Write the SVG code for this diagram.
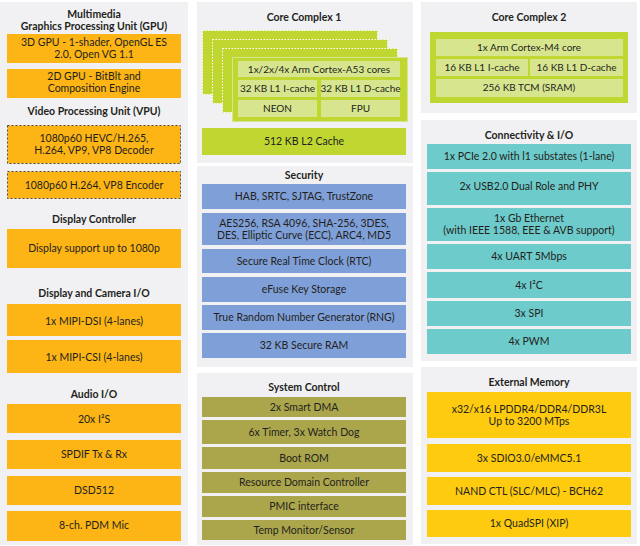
<svg xmlns="http://www.w3.org/2000/svg" width="640" height="546" viewBox="0 0 640 546">
<style>
text{font-family:Lato,"Open Sans","Liberation Sans",sans-serif;font-size:10.5px;fill:#231f20;text-anchor:middle}
.t{font-weight:bold;font-size:10.5px}
.c{font-size:10px}
.panel{fill:#f1f1f3}
.or{fill:#fdb515}
.dash{fill:#fdb515;stroke:#4a4a4a;stroke-width:1;stroke-dasharray:2,2}
.ye{fill:#fecb0e}
.gr{fill:#bfd730}
.lg{fill:#d7e58f}
.layer{fill:#bfd730;stroke:#ffffff;stroke-width:1;stroke-dasharray:1.5,1.5}
.bl{fill:#7f9fd8}
.te{fill:#6ecbcb}
.ol{fill:#aba64b}
</style>
<rect width="640" height="546" fill="#ffffff"/>
<g id="panels">
<rect class="panel" x="0" y="2" width="188" height="543"/>
<rect class="panel" x="197" y="2" width="216" height="161"/>
<rect class="panel" x="197" y="166" width="216" height="201"/>
<rect class="panel" x="197" y="373" width="216" height="172"/>
<rect class="panel" x="421" y="2" width="216" height="111"/>
<rect class="panel" x="421" y="120" width="216" height="241"/>
<rect class="panel" x="421" y="367" width="216" height="177"/>
</g>
<g id="gpu">
<text class="t" x="94" y="18">Multimedia</text>
<text class="t" x="94" y="30">Graphics Processing Unit (GPU)</text>
<rect class="or" x="7" y="34" width="174" height="29"/>
<text x="94" y="46">3D GPU - 1-shader, OpenGL ES</text>
<text x="94" y="58">2.0, Open VG 1.1</text>
<rect class="or" x="7" y="69" width="174" height="29"/>
<text x="94" y="80">2D GPU - BitBlt and</text>
<text x="94" y="92">Composition Engine</text>
</g>
<g id="vpu">
<text class="t" x="94" y="115">Video Processing Unit (VPU)</text>
<rect class="dash" x="7.5" y="125.5" width="173" height="38"/>
<text x="94" y="142">1080p60 HEVC/H.265,</text>
<text x="94" y="154">H.264, VP9, VP8 Decoder</text>
<rect class="dash" x="7.5" y="171.5" width="173" height="27"/>
<text x="94" y="189">1080p60 H.264, VP8 Encoder</text>
</g>
<g id="display">
<text class="t" x="94" y="223">Display Controller</text>
<rect class="or" x="7" y="229" width="174" height="39"/>
<text x="94" y="252">Display support up to 1080p</text>
</g>
<g id="dispcam">
<text class="t" x="94" y="297">Display and Camera I/O</text>
<rect class="or" x="7" y="304" width="174" height="32"/>
<text x="94" y="325">1x MIPI-DSI (4-lanes)</text>
<rect class="or" x="7" y="340" width="174" height="33"/>
<text x="94" y="361">1x MIPI-CSI (4-lanes)</text>
</g>
<g id="audio">
<text class="t" x="94" y="398">Audio I/O</text>
<rect class="or" x="7" y="404" width="174" height="29"/>
<text x="94" y="423">20x I²S</text>
<rect class="or" x="7" y="440" width="174" height="29"/>
<text x="94" y="458">SPDIF Tx &amp; Rx</text>
<rect class="or" x="7" y="476" width="174" height="29"/>
<text x="94" y="494">DSD512</text>
<rect class="or" x="7" y="511" width="174" height="30"/>
<text x="94" y="529">8-ch. PDM Mic</text>
</g>
<g id="cc1">
<text class="t" x="304" y="21">Core Complex 1</text>
<rect class="layer" x="202.5" y="30.5" width="175" height="64"/>
<rect class="layer" x="212.5" y="39.5" width="175" height="64"/>
<rect class="layer" x="222.5" y="48.5" width="175" height="64"/>
<rect class="gr" x="232.5" y="57.5" width="175" height="64" stroke="#d7e58f" stroke-width="1"/>
<rect class="lg" x="238" y="61" width="162" height="16"/>
<text class="c" x="319" y="73">1x/2x/4x Arm Cortex-A53 cores</text>
<rect class="lg" x="238" y="80" width="79" height="17"/>
<text class="c" x="277.5" y="92">32 KB L1 I-cache</text>
<rect class="lg" x="321" y="80" width="79" height="17"/>
<text class="c" x="360.5" y="92">32 KB L1 D-cache</text>
<rect class="lg" x="238" y="100" width="79" height="17"/>
<text class="c" x="277.5" y="112">NEON</text>
<rect class="lg" x="321" y="100" width="79" height="17"/>
<text class="c" x="360.5" y="112">FPU</text>
<rect class="gr" x="202" y="128" width="204" height="27"/>
<text x="304" y="145">512 KB L2 Cache</text>
</g>
<g id="security">
<text class="t" x="304" y="179">Security</text>
<rect class="bl" x="202" y="184" width="204" height="25"/>
<text x="304" y="200">HAB, SRTC, SJTAG, TrustZone</text>
<rect class="bl" x="202" y="213" width="204" height="32"/>
<text x="304" y="227">AES256, RSA 4096, SHA-256, 3DES,</text>
<text x="304" y="239">DES, Elliptic Curve (ECC), ARC4, MD5</text>
<rect class="bl" x="202" y="249" width="204" height="24"/>
<text x="304" y="265">Secure Real Time Clock (RTC)</text>
<rect class="bl" x="202" y="277" width="204" height="25"/>
<text x="304" y="293">eFuse Key Storage</text>
<rect class="bl" x="202" y="305" width="204" height="25"/>
<text x="304" y="321">True Random Number Generator (RNG)</text>
<rect class="bl" x="202" y="333" width="204" height="25"/>
<text x="304" y="349">32 KB Secure RAM</text>
</g>
<g id="sysctl">
<text class="t" x="304" y="391">System Control</text>
<rect class="ol" x="202" y="397" width="204" height="20"/>
<text x="304" y="411">2x Smart DMA</text>
<rect class="ol" x="202" y="420" width="204" height="24"/>
<text x="304" y="436">6x Timer, 3x Watch Dog</text>
<rect class="ol" x="202" y="447" width="204" height="22"/>
<text x="304" y="462">Boot ROM</text>
<rect class="ol" x="202" y="472" width="204" height="21"/>
<text x="304" y="486">Resource Domain Controller</text>
<rect class="ol" x="202" y="496" width="204" height="21"/>
<text x="304" y="510">PMIC interface</text>
<rect class="ol" x="202" y="520" width="204" height="20"/>
<text x="304" y="534">Temp Monitor/Sensor</text>
</g>
<g id="cc2">
<text class="t" x="529" y="21">Core Complex 2</text>
<rect class="gr" x="430" y="32" width="198" height="71"/>
<rect class="lg" x="436" y="39" width="187" height="17"/>
<text class="c" x="529" y="51">1x Arm Cortex-M4 core</text>
<rect class="lg" x="436" y="59" width="92" height="17"/>
<text class="c" x="482" y="71">16 KB L1  I-cache</text>
<rect class="lg" x="530" y="59" width="93" height="17"/>
<text class="c" x="576.5" y="71">16 KB L1 D-cache</text>
<rect class="lg" x="436" y="79" width="187" height="18"/>
<text class="c" x="529" y="91">256 KB TCM (SRAM)</text>
</g>
<g id="connectivity">
<text class="t" x="529" y="139">Connectivity &amp; I/O</text>
<rect class="te" x="427" y="144" width="204" height="25"/>
<text x="529" y="160">1x PCIe 2.0 with l1 substates (1-lane)</text>
<rect class="te" x="427" y="172" width="204" height="33"/>
<text x="529" y="190">2x USB2.0 Dual Role and PHY</text>
<rect class="te" x="427" y="208" width="204" height="33"/>
<text x="529" y="222">1x Gb Ethernet</text>
<text x="529" y="234">(with IEEE 1588, EEE &amp; AVB support)</text>
<rect class="te" x="427" y="244" width="204" height="25"/>
<text x="529" y="260">4x UART 5Mbps</text>
<rect class="te" x="427" y="272" width="204" height="26"/>
<text x="529" y="289">4x I²C</text>
<rect class="te" x="427" y="301" width="204" height="25"/>
<text x="529" y="317">3x SPI</text>
<rect class="te" x="427" y="329" width="204" height="25"/>
<text x="529" y="345">4x PWM</text>
</g>
<g id="extmem">
<text class="t" x="529" y="386">External Memory</text>
<rect class="ye" x="427" y="392" width="204" height="46"/>
<text x="529" y="413">x32/x16 LPDDR4/DDR4/DDR3L</text>
<text x="529" y="425">Up to 3200 MTps</text>
<rect class="ye" x="427" y="444" width="204" height="28"/>
<text x="529" y="462">3x SDIO3.0/eMMC5.1</text>
<rect class="ye" x="427" y="477" width="204" height="28"/>
<text x="529" y="495">NAND CTL (SLC/MLC) - BCH62</text>
<rect class="ye" x="427" y="510" width="204" height="27"/>
<text x="529" y="527">1x QuadSPI (XIP)</text>
</g>
<g id="connectors"></g>
</svg>
